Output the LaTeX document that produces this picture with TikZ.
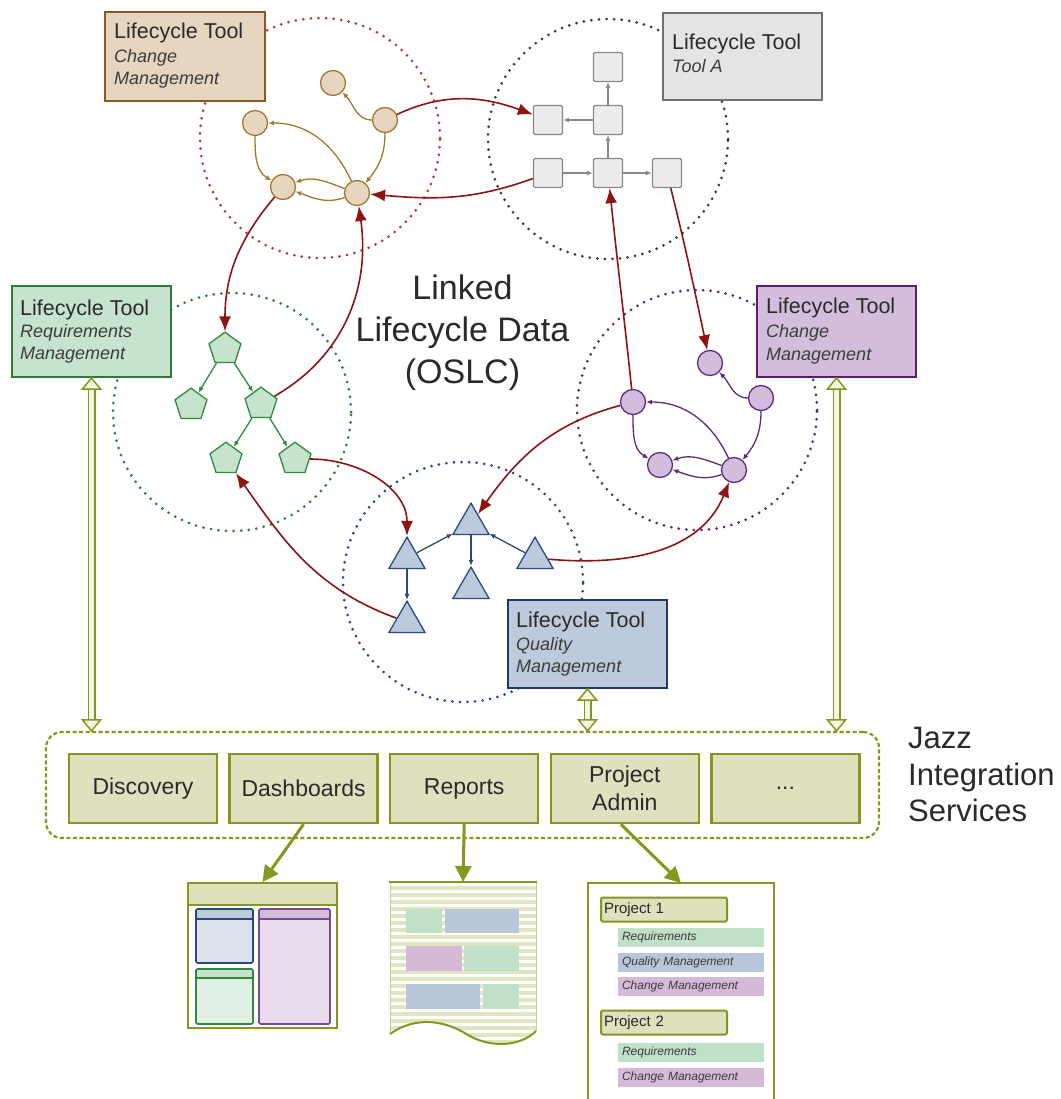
\documentclass[tikz,border=0pt]{standalone}
\usepackage{fontspec}
\setmainfont{Liberation Sans}
\usetikzlibrary{arrows.meta,shapes.geometric,calc}

\definecolor{tanfill}{HTML}{E6D6C0}
\definecolor{tanbox}{HTML}{8A5A24}
\definecolor{tanline}{HTML}{A27A2E}
\definecolor{tandot}{HTML}{B23A3A}
\definecolor{grayfill}{HTML}{E4E4E4}
\definecolor{sqfill}{HTML}{ECECEC}
\definecolor{graybox}{HTML}{707070}
\definecolor{grayline}{HTML}{888888}
\definecolor{graydot}{HTML}{3A3A3A}
\definecolor{grnfill}{HTML}{C6E3CD}
\definecolor{grnbox}{HTML}{2D7A3A}
\definecolor{grnline}{HTML}{2F8A40}
\definecolor{grndot}{HTML}{2E7D40}
\definecolor{purfill}{HTML}{D3BDDD}
\definecolor{purbox}{HTML}{5A1E6A}
\definecolor{purline}{HTML}{5E2C7C}
\definecolor{purdot}{HTML}{5A2A7A}
\definecolor{blufill}{HTML}{BDCADB}
\definecolor{blubox}{HTML}{1F3A68}
\definecolor{bluline}{HTML}{294B7C}
\definecolor{bludot}{HTML}{2A4A7A}
\definecolor{redarr}{HTML}{8E1414}
\definecolor{olv}{HTML}{86961E}
\definecolor{khaki}{HTML}{DFE0BE}
\definecolor{dblfill}{HTML}{F4F5E2}
\definecolor{stripe}{HTML}{E2E5C2}
\definecolor{txt}{HTML}{2A2A2A}
\definecolor{subtxt}{HTML}{3C3C3C}
\definecolor{docgrn}{HTML}{C0E0C8}
\definecolor{docblu}{HTML}{B9C5D9}
\definecolor{docpur}{HTML}{D5BAD8}

\tikzset{
 ltbox/.style={draw, line width=2pt, minimum width=159pt, minimum height=89pt, inner sep=0pt},
 ltitle/.style={anchor=base west, inner sep=0pt, text=txt, font=\fontsize{21.5}{25}\selectfont},
 lsub/.style={anchor=base west, inner sep=0pt, text=subtxt, font=\fontsize{18}{22}\selectfont\itshape},
 dotring/.style={line width=3pt, line cap=round, dash pattern=on 0pt off 7.6pt},
 cnode/.style={circle, line width=1.3pt, minimum size=25pt, inner sep=0pt},
 tannode/.style={cnode, draw=tanline, fill=tanfill},
 purnode/.style={cnode, draw=purline, fill=purfill},
 sqnode/.style={rectangle, rounded corners=1.5pt, draw=grayline, fill=sqfill, line width=1.3pt, minimum size=29pt, inner sep=0pt},
 pentnode/.style={regular polygon, regular polygon sides=5, draw=grnline, fill=grnfill, line width=1.3pt, minimum size=33.6pt, inner sep=0pt},
 trinode/.style={regular polygon, regular polygon sides=3, draw=bluline, fill=blufill, line width=1.3pt, minimum size=41.6pt, inner sep=0pt},
 inedge/.style={line width=1.3pt, -{Latex[length=6pt,width=5pt]}},
 redarrow/.style={draw=redarr, line width=1.6pt, -{Latex[length=15pt,width=12pt]}},
 dblshaft/.style={draw=olv, line width=1.5pt, double=dblfill, double distance=5pt, shorten <=10pt, shorten >=10pt},
 dblhead/.style={draw=olv, fill=dblfill, line width=1.5pt, line join=miter},
 svcframe/.style={draw=olv, line width=2.2pt, dash pattern=on 4pt off 2.5pt, rounded corners=16pt, minimum width=833pt, minimum height=106pt, inner sep=0pt},
 svc/.style={draw=olv, fill=khaki, line width=2.4pt, minimum width=148pt, minimum height=69pt, inner sep=0pt, align=center, text=txt, font=\fontsize{23}{28}\selectfont},
 docarrow/.style={draw=olv, line width=3pt, -{Triangle[length=16pt,width=16pt]}},
 bigtext/.style={anchor=base, inner sep=0pt, text=txt, font=\fontsize{34}{40}\selectfont},
 jztext/.style={anchor=base west, inner sep=0pt, text=txt, font=\fontsize{31}{36}\selectfont},
 projbox/.style={draw=olv, fill=khaki, line width=2pt, rounded corners=1.5pt, minimum height=24pt, text width=120pt, inner xsep=3pt, inner ysep=0pt, align=left, text=txt, font=\fontsize{15}{18}\selectfont},
 barnode/.style={minimum height=19pt, text width=138pt, inner xsep=4pt, inner ysep=0pt, align=left, text=subtxt, font=\fontsize{12}{14}\selectfont\itshape},
}

\begin{document}
\begin{tikzpicture}[x=1pt,y=1pt]
\useasboundingbox (0,0) rectangle (1060,-1099);
\fill[white] (0,0) rectangle (1060,-1099);

% dotted rings
\draw[dotring, draw=tandot] (320,-138) circle[radius=120pt];
\draw[dotring, draw=graydot] (608,-139) circle[radius=120pt];
\draw[dotring, draw=grndot] (232,-412) circle[radius=119pt];
\draw[dotring, draw=purdot] (697,-410) circle[radius=120pt];
\draw[dotring, draw=bludot] (463,-582) circle[radius=120pt];

% lifecycle tool boxes
\node[ltbox, draw=tanbox, fill=tanfill, minimum width=160pt] (tbox) at (185,-56.5) {};
\node[ltitle] (tboxt) at (114,-39) {Lifecycle Tool};
\node[lsub] (tboxs1) at (114,-63) {Change};
\node[lsub] (tboxs2) at (114,-85) {Management};

\node[ltbox, draw=graybox, fill=grayfill, minimum height=87pt] (gbox) at (742.5,-56.5) {};
\node[ltitle] (gboxt) at (672,-50) {Lifecycle Tool};
\node[lsub] (gboxs1) at (672,-73) {Tool A};

\node[ltbox, draw=grnbox, fill=grnfill, minimum height=91pt] (rbox) at (91.5,-331.5) {};
\node[ltitle] (rboxt) at (20,-315) {Lifecycle Tool};
\node[lsub] (rboxs1) at (20,-337) {Requirements};
\node[lsub] (rboxs2) at (20,-359) {Management};

\node[ltbox, draw=purbox, fill=purfill, minimum height=91pt] (pbox) at (836.5,-331.5) {};
\node[ltitle] (pboxt) at (766,-313) {Lifecycle Tool};
\node[lsub] (pboxs1) at (766,-337) {Change};
\node[lsub] (pboxs2) at (766,-360) {Management};

\node[ltbox, draw=blubox, fill=blufill, minimum height=88pt] (bbox) at (587.5,-644) {};
\node[ltitle] (bboxt) at (516,-627) {Lifecycle Tool};
\node[lsub] (bboxs1) at (516,-650) {Quality};
\node[lsub] (bboxs2) at (516,-672) {Management};

% tan cluster
\node[tannode] (tA) at (333,-83) {};
\node[tannode] (tB) at (385,-120) {};
\node[tannode] (tC) at (255,-123) {};
\node[tannode] (tD) at (283,-187) {};
\node[tannode] (tE) at (357,-193) {};
\begin{scope}[draw=tanline, color=tanline]
\draw[inedge] (tB) to[out=180, in=-45] (tA);
\draw[inedge] (tB) to[out=-90, in=50] (tE);
\draw[inedge] (tE) to[out=115, in=0] (tC);
\draw[inedge] (tC) to[out=-90, in=150] (tD);
\draw[inedge] (tE) to[out=160, in=20] (tD);
\draw[inedge] (tE) to[out=200, in=-20] (tD);
\end{scope}

% gray cluster
\node[sqnode] (gS1) at (608,-67) {};
\node[sqnode] (gS2) at (548,-120) {};
\node[sqnode] (gS3) at (608,-120) {};
\node[sqnode] (gS4) at (548,-173) {};
\node[sqnode] (gS5) at (608,-173) {};
\node[sqnode] (gS6) at (667,-173) {};
\begin{scope}[draw=grayline, color=grayline]
\draw[inedge] (gS3) -- (gS1);
\draw[inedge] (gS3) -- (gS2);
\draw[inedge] (gS5) -- (gS3);
\draw[inedge] (gS4) -- (gS5);
\draw[inedge] (gS5) -- (gS6);
\end{scope}

% green cluster
\node[pentnode] (rq1) at (225,-349) {};
\node[pentnode] (rq2) at (191,-405) {};
\node[pentnode] (rq3) at (261,-404) {};
\node[pentnode] (rq4) at (226,-459) {};
\node[pentnode] (rq5) at (295,-459) {};
\begin{scope}[draw=grnline, color=grnline]
\draw[inedge] (rq1) -- (rq2);
\draw[inedge] (rq1) -- (rq3);
\draw[inedge] (rq3) -- (rq4);
\draw[inedge] (rq3) -- (rq5);
\end{scope}

% purple cluster
\node[purnode] (pA) at (710,-363) {};
\node[purnode] (pB) at (761,-398) {};
\node[purnode] (pC) at (633,-402) {};
\node[purnode] (pD) at (660,-465) {};
\node[purnode] (pE) at (734,-470) {};
\begin{scope}[draw=purline, color=purline]
\draw[inedge] (pB) to[out=180, in=-45] (pA);
\draw[inedge] (pB) to[out=-90, in=50] (pE);
\draw[inedge] (pE) to[out=115, in=0] (pC);
\draw[inedge] (pC) to[out=-90, in=150] (pD);
\draw[inedge] (pE) to[out=160, in=20] (pD);
\draw[inedge] (pE) to[out=200, in=-20] (pD);
\end{scope}

% blue cluster
\node[trinode] (q1) at (471,-524) {};
\node[trinode] (q2) at (407,-558) {};
\node[trinode] (q3) at (535,-558) {};
\node[trinode] (q4) at (471,-588) {};
\node[trinode] (q5) at (407,-622) {};
\begin{scope}[draw=bluline, color=bluline]
\draw[inedge] (q2) -- (q1);
\draw[inedge] (q3) -- (q1);
\draw[inedge] (q1) -- (q4);
\draw[inedge] (q2) -- (q5);
\end{scope}

% red OSLC links
\begin{scope}[color=redarr]
\draw[redarrow] (tB) to[out=25, in=160] (gS2);
\draw[redarrow] (gS4) to[out=200, in=-5] (tE);
\draw[redarrow] (tD) to[out=230, in=90] (rq1);
\draw[redarrow] (rq3) to[out=30, in=-82] (tE);
\draw[redarrow] (gS6) to[out=-76, in=102] (pA);
\draw[redarrow] (pC) to[out=96, in=-84] (gS5);
\draw[redarrow] (pC) to[out=195, in=55] (q1);
\draw[redarrow] (rq5) to[out=0, in=90] (q2);
\draw[redarrow] (q3) to[out=-5, in=-112] (pE);
\draw[redarrow] (q5) to[out=160, in=-55] (rq4);
\end{scope}

% central label
\node[bigtext] (ll1) at (462.5,-299) {Linked};
\node[bigtext] (ll2) at (462.5,-341) {Lifecycle Data};
\node[bigtext] (ll3) at (462.5,-383) {(OSLC)};

% services
\node[svcframe] (jis) at (462.5,-785) {};
\node[svc] (sDisc) at (143,-788.5) {Discovery};
\node[svc] (sDash) at (303.6,-788.5) {Dashboards};
\node[svc] (sRep) at (464.2,-788.5) {Reports};
\node[svc] (sPA) at (624.8,-788.5) {Project\\Admin};
\node[svc] (sMore) at (785.4,-788.5) {...};

\node[jztext] (jz1) at (908,-748) {Jazz};
\node[jztext] (jz2) at (908,-785) {Integration};
\node[jztext] (jz3) at (908,-821) {Services};

% double (two-way) arrows
\foreach \b in {rbox,bbox,pbox}{
  \draw[dblshaft] (\b.south) -- (\b.south |- jis.north);
  \draw[dblhead] (\b.south) -- ++(-9,-11) -- ++(18,0) -- cycle;
  \draw[dblhead] (\b.south |- jis.north) -- ++(-9,11) -- ++(18,0) -- cycle;
}

% dashboard document
\node[draw=olv, fill=white, line width=2pt, minimum width=149pt, minimum height=145pt, inner sep=0pt] (dbd) at (262.5,-955.5) {};
\fill[khaki] (189,-884) rectangle (336,-905);
\draw[olv, line width=1.5pt] (188,-905) -- (337,-905);
\filldraw[draw=bluline, fill=blufill!55!white, line width=1.6pt, rounded corners=1.5pt] (196,-909) rectangle (253,-963);
\filldraw[draw=bluline, fill=blufill, line width=1.6pt, rounded corners=1.5pt] (196,-909) rectangle (253,-919);
\filldraw[draw=grnline, fill=grnfill!55!white, line width=1.6pt, rounded corners=1.5pt] (196,-969) rectangle (253,-1024);
\filldraw[draw=grnline, fill=grnfill, line width=1.6pt, rounded corners=1.5pt] (196,-969) rectangle (253,-978);
\filldraw[draw=purline!85!white, fill=purfill!55!white, line width=1.6pt, rounded corners=1.5pt] (259,-909) rectangle (330,-1024);
\filldraw[draw=purline!85!white, fill=purfill, line width=1.6pt, rounded corners=1.5pt] (259,-909) rectangle (330,-919);

% reports document
\coordinate (rptTop) at (463,-882);
\begin{scope}
\clip (390,-882) -- (536,-882) -- (536,-1031) .. controls (520,-1047) and (490,-1048) .. (468,-1035) .. controls (445,-1020) and (415,-1016) .. (390,-1034) -- cycle;
\fill[white] (385,-880) rectangle (540,-1050);
\foreach \i in {0,...,23} \fill[stripe] (385,{-886-7*\i}) rectangle (540,{-889.5-7*\i});
\end{scope}
\fill[docgrn] (406,-909) rectangle (442,-933);
\fill[docblu] (445,-909) rectangle (519,-933);
\fill[docpur] (406,-946) rectangle (462,-971);
\fill[docgrn] (464,-946) rectangle (519,-971);
\fill[docblu] (406,-984) rectangle (480,-1009);
\fill[docgrn] (483,-984) rectangle (519,-1009);
\draw[olv!45!white, line width=1pt] (390,-882) -- (390,-1034);
\draw[olv!45!white, line width=1pt] (536,-882) -- (536,-1031);
\draw[olv, line width=2pt] (389,-882) -- (537,-882);
\draw[olv, line width=2pt] (536,-1031) .. controls (520,-1047) and (490,-1048) .. (468,-1035) .. controls (445,-1020) and (415,-1016) .. (390,-1034);

% project admin document
\coordinate (paTop) at (681,-883);
\draw[olv, line width=1.6pt] (588,-1101) -- (588,-883) -- (774,-883) -- (774,-1101);
\node[projbox] (pj1) at (664,-909.5) {Project 1};
\node[barnode, fill=docgrn] (pj1a) at (691,-937.5) {Requirements};
\node[barnode, fill=docblu] (pj1b) at (691,-962) {Quality Management};
\node[barnode, fill=docpur] (pj1c) at (691,-986) {Change Management};
\node[projbox] (pj2) at (664,-1022.5) {Project 2};
\node[barnode, fill=docgrn] (pj2a) at (691,-1052.5) {Requirements};
\node[barnode, fill=docpur] (pj2b) at (691,-1077) {Change Management};

% service to document arrows
\draw[docarrow] (sDash.south) -- (dbd.north);
\draw[docarrow] (sRep.south) -- (rptTop);
\draw[docarrow] ([xshift=-4pt]sPA.south) -- (paTop);
\end{tikzpicture}
\end{document}
